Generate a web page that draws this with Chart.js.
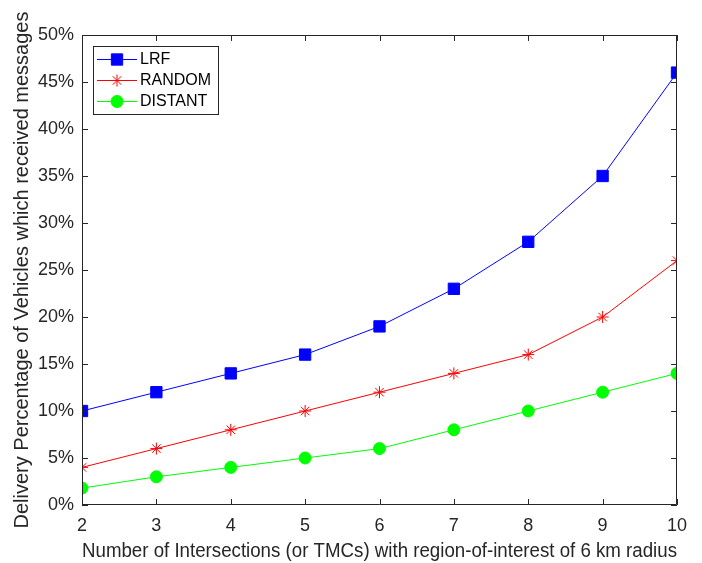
<!DOCTYPE html>
<html>
<head>
<meta charset="utf-8">
<script src="https://cdn.jsdelivr.net/npm/chart.js@4/dist/chart.umd.min.js"></script>
<style>
  html, body { margin: 0; padding: 0; background: #fff; }
  #wrap { width: 702px; height: 563px; }
</style>
</head>
<body>
<div id="wrap"><canvas id="c" width="702" height="563"></canvas></div>
<script>
// ---- data ----
const intersections = [2, 3, 4, 5, 6, 7, 8, 9, 10];
const lrf = [10, 12, 14, 16, 19, 23, 28, 35, 46];
const random = [4, 6, 8, 10, 12, 14, 16, 20, 26];
const distant = [1.8, 3, 4, 5, 6, 8, 10, 12, 14];
const yTicks = [0, 5, 10, 15, 20, 25, 30, 35, 40, 45, 50];

const FONT = '"Liberation Sans", Arial, sans-serif';
const AXIS = '#262626';

function toXY(vals) {
  return vals.map((v, i) => ({ x: intersections[i], y: v }));
}

// inward ticks on all four sides, like a matlab box
const boxTicks = {
  id: 'boxTicks',
  afterDatasetsDraw(chart) {
    const { ctx, chartArea: a, scales } = chart;
    ctx.save();
    ctx.strokeStyle = AXIS;
    ctx.lineWidth = 1;
    ctx.beginPath();
    ctx.rect(a.left + 0.5, a.top + 0.5, a.right - a.left - 1, a.bottom - a.top - 1);
    intersections.forEach(v => {
      const x = Math.round(scales.x.getPixelForValue(v)) + 0.5;
      ctx.moveTo(x, a.bottom); ctx.lineTo(x, a.bottom - 6);
      ctx.moveTo(x, a.top); ctx.lineTo(x, a.top + 6);
    });
    yTicks.forEach(v => {
      const y = Math.round(scales.y.getPixelForValue(v)) + 0.5;
      ctx.moveTo(a.left, y); ctx.lineTo(a.left + 6, y);
      ctx.moveTo(a.right, y); ctx.lineTo(a.right - 6, y);
    });
    ctx.stroke();
    ctx.restore();
  }
};

// legend box with line + marker samples
const boxLegend = {
  id: 'boxLegend',
  afterDraw(chart) {
    const { ctx } = chart;
    const x0 = 93, y0 = 46, w = 125, h = 68;
    ctx.save();
    ctx.fillStyle = '#fff';
    ctx.fillRect(x0, y0, w, h);
    ctx.strokeStyle = AXIS;
    ctx.lineWidth = 1;
    ctx.strokeRect(x0 + 0.5, y0 + 0.5, w, h);
    chart.data.datasets.forEach((ds, i) => {
      const y = y0 + 13 + i * 21;
      ctx.strokeStyle = ds.borderColor;
      ctx.lineWidth = 1;
      ctx.beginPath();
      ctx.moveTo(x0 + 4, y + 0.5);
      ctx.lineTo(x0 + 44, y + 0.5);
      ctx.stroke();
      ctx.fillStyle = ds.backgroundColor;
      ctx.strokeStyle = ds.borderColor;
      Chart.helpers.drawPoint(ctx, {
        pointStyle: ds.pointStyle,
        radius: ds.pointRadius,
        borderWidth: ds.pointBorderWidth
      }, x0 + 24, y + 0.5);
      ctx.fillStyle = '#000';
      ctx.font = '16px ' + FONT;
      ctx.textBaseline = 'middle';
      ctx.textAlign = 'left';
      ctx.fillText(ds.label, x0 + 47, y + 1);
    });
    ctx.restore();
  }
};

function series(label, vals, color, style, radius) {
  return {
    label,
    data: toXY(vals),
    borderColor: color,
    backgroundColor: color,
    borderWidth: 1,
    pointStyle: style,
    pointRadius: radius,
    pointHoverRadius: radius,
    pointBackgroundColor: color,
    pointBorderColor: color,
    pointBorderWidth: 1,
    fill: false,
    tension: 0
  };
}

new Chart(document.getElementById('c').getContext('2d'), {
  type: 'line',
  data: {
    datasets: [
      series('LRF', lrf, '#0000ff', 'rect', 8),
      series('RANDOM', random, '#ff0000', 'star', 6),
      series('DISTANT', distant, '#00ff00', 'circle', 6)
    ]
  },
  options: {
    responsive: false,
    animation: false,
    devicePixelRatio: 1,
    layout: { padding: { top: 35, right: 25, left: 0, bottom: 0 } },
    plugins: {
      legend: { display: false },
      tooltip: { enabled: false }
    },
    scales: {
      x: {
        type: 'linear',
        min: 2,
        max: 10,
        afterFit(s) { s.height = 58; },
        afterBuildTicks(s) { s.ticks = intersections.map(v => ({ value: v })); },
        grid: { display: false, drawTicks: false },
        border: { display: false },
        ticks: { color: '#262626', font: { family: FONT, size: 18 }, padding: 10, maxRotation: 0 },
        title: {
          display: true,
          text: 'Number of Intersections (or TMCs) with region-of-interest of 6 km radius',
          color: '#262626',
          font: { family: FONT, size: 20 },
          padding: { top: 0, bottom: 0 }
        }
      },
      y: {
        min: 0,
        max: 50,
        afterFit(s) { s.width = 82; },
        afterBuildTicks(s) { s.ticks = yTicks.map(v => ({ value: v })); },
        grid: { display: false, drawTicks: false },
        border: { display: false },
        ticks: {
          color: '#262626',
          font: { family: FONT, size: 18 },
          padding: 8,
          callback: v => v + '%'
        },
        title: {
          display: true,
          text: 'Delivery Percentage of Vehicles which received messages',
          color: '#262626',
          font: { family: FONT, size: 20 },
          padding: { top: 10, bottom: 0 }
        }
      }
    }
  },
  plugins: [boxTicks, boxLegend]
});
</script>
</body>
</html>
